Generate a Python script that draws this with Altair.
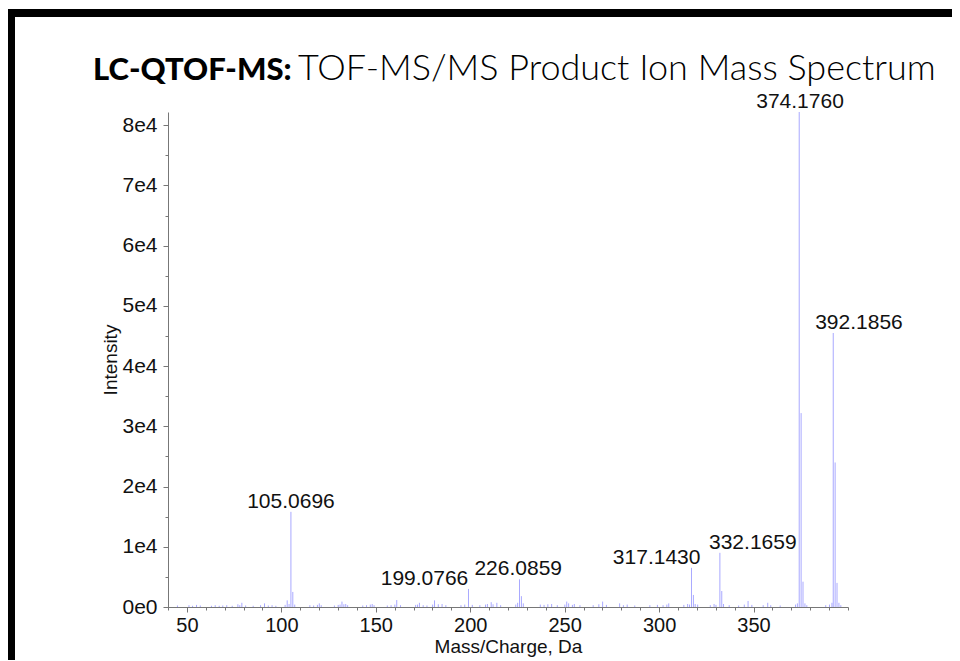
import altair as alt
import pandas as pd

# ---------------- data ----------------
peak_mz = [45.0, 51.1, 53.0, 55.1, 57.1, 63.0, 65.0, 67.1, 69.0, 71.1, 74.0, 77.0, 78.0, 79.1, 81.1,
           85.1, 89.0, 91.1, 93.1, 95.1, 97.1, 102.0, 103.1, 104.1, 105.07, 106.07, 107.1, 115.1,
           117.1, 119.1, 120.1, 121.1, 128.1, 130.1, 131.1, 132.1, 133.1, 134.1, 135.1, 143.1,
           145.1, 147.1, 148.1, 149.1, 156.1, 158.1, 160.1, 161.1, 163.1, 171.1, 172.1, 173.1,
           175.1, 177.1, 180.1, 181.1, 183.1, 185.1, 187.1, 195.1, 197.1, 199.08, 201.1, 205.1,
           208.1, 209.1, 211.1, 212.1, 214.1, 216.1, 224.1, 225.1, 226.09, 227.09, 228.1, 237.1,
           239.1, 241.1, 243.1, 246.1, 250.1, 251.1, 252.1, 254.1, 255.1, 258.1, 265.1, 268.1,
           270.1, 272.1, 279.1, 281.1, 283.1, 287.1, 295.1, 299.1, 302.1, 304.1, 305.1, 313.1,
           315.1, 316.1, 317.14, 318.15, 319.1, 320.4, 327.1, 329.1, 330.1, 332.17, 333.17, 334.1,
           337.1, 342.1, 345.1, 347.1, 349.1, 355.1, 357.5, 359.1, 364.1, 372.2, 373.2, 374.18,
           375.18, 376.18, 377.2, 378.2, 388.2, 390.2, 391.5, 392.19, 393.19, 394.19, 395.2, 396.2]
peak_intensity = [250, 300, 200, 350, 250, 200, 300, 200, 250, 300, 200, 450, 300, 700, 250,
                  200, 300, 600, 250, 300, 200, 350, 1100, 500, 15800, 2500, 400, 300,
                  250, 350, 600, 300, 250, 350, 400, 900, 450, 500, 300, 250,
                  300, 400, 500, 300, 250, 300, 400, 1150, 300, 350, 400, 700,
                  300, 250, 400, 1100, 450, 500, 300, 300, 400, 3000, 350, 300,
                  400, 500, 800, 450, 700, 300, 400, 700, 4600, 1800, 600, 400,
                  350, 450, 500, 300, 400, 900, 600, 350, 500, 300, 300, 450,
                  900, 350, 600, 300, 400, 250, 300, 350, 300, 400, 600, 350,
                  500, 400, 6500, 2000, 500, 400, 300, 500, 350, 9000, 2650, 500,
                  300, 250, 400, 1000, 350, 300, 700, 300, 250, 400, 600, 82200,
                  32200, 4200, 600, 300, 300, 400, 700, 45500, 24000, 4000, 700, 300]

label_text = ["105.0696", "199.0766", "226.0859", "317.1430", "332.1659", "374.1760", "392.1856"]
label_pos_mz = [105.1, 175.8, 225.4, 298.7, 349.6, 374.6, 405.8]
label_intensity = [15800, 3000, 4600, 6500, 9000, 82200, 45500]

x_major = [50, 100, 150, 200, 250, 300, 350]
x_minor = list(range(40, 401, 10))
y_major = [0, 10000, 20000, 30000, 40000, 50000, 60000, 70000, 80000]
y_minor = list(range(0, 82001, 5000))

spec_df = pd.DataFrame({"mz": peak_mz, "intensity": peak_intensity, "base": [0] * len(peak_mz)})
lab_df = pd.DataFrame({"text": label_text, "mz": label_pos_mz, "intensity": label_intensity})
one = alt.Data(values=[{"k": 1}])

FONT = "Liberation Sans"
AX = "#777777"
TXT = "#111111"

xscale = alt.Scale(domain=[40, 400], nice=False, zero=False)
yscale = alt.Scale(domain=[0, 82200], nice=False)

x_axis = alt.Axis(values=x_major, title="Mass/Charge, Da", orient="bottom", grid=False,
                  tickSize=5, labelPadding=3, titlePadding=2, labelFontSize=20, titleFontSize=19,
                  labelFont=FONT, titleFont=FONT, titleFontWeight="normal",
                  domainColor=AX, tickColor=AX, labelColor=TXT, titleColor=TXT)
y_axis = alt.Axis(values=y_major, title="Intensity", orient="left", grid=False,
                  labelExpr="datum.value == 0 ? '0e0' : format(datum.value / 10000, 'd') + 'e4'",
                  tickSize=5, labelPadding=6, titlePadding=1, labelFontSize=21, titleFontSize=19,
                  labelFont=FONT, titleFont=FONT, titleFontWeight="normal",
                  domainColor=AX, tickColor=AX, labelColor=TXT, titleColor=TXT)

spectrum = alt.Chart(spec_df).mark_rule(color="#9a9aff", strokeWidth=1, opacity=0.85).encode(
    x=alt.X("mz:Q", scale=xscale, axis=x_axis),
    y=alt.Y("intensity:Q", scale=yscale, axis=y_axis),
    y2=alt.Y2("base:Q"),
)

minor = alt.Chart(spec_df).mark_point(opacity=0).encode(
    x=alt.X("mz:Q", scale=xscale,
            axis=alt.Axis(values=x_minor, labels=False, title=None, domain=False, grid=False,
                          tickSize=3, orient="bottom", tickColor=AX)),
    y=alt.Y("intensity:Q", scale=yscale,
            axis=alt.Axis(values=y_minor, labels=False, title=None, domain=False, grid=False,
                          tickSize=3, orient="left", tickColor=AX)),
)

labels = alt.Chart(lab_df).mark_text(font=FONT, fontSize=21, dy=-4, align="center",
                                     baseline="alphabetic", color=TXT).encode(
    x=alt.X("mz:Q", scale=xscale, axis=None),
    y=alt.Y("intensity:Q", scale=yscale, axis=None),
    text="text:N",
)

title_bold = alt.Chart(one).mark_text(text="LC-QTOF-MS:", font="Lato", fontWeight=900, fontSize=31,
                                      align="left", baseline="alphabetic", color="#000").encode(
    x=alt.value(-75), y=alt.value(-32))
title_light = alt.Chart(one).mark_text(text="TOF-MS/MS Product Ion Mass Spectrum", font="Lato",
                                       fontWeight=300, fontSize=36, align="left",
                                       baseline="alphabetic", color="#000").encode(
    x=alt.value(130), y=alt.value(-32))

border_top = alt.Chart(one).mark_rect(color="black").encode(
    x=alt.value(-160), x2=alt.value(820), y=alt.value(-103), y2=alt.value(-95))
border_left = alt.Chart(one).mark_rect(color="black").encode(
    x=alt.value(-160), x2=alt.value(-153), y=alt.value(-103), y2=alt.value(600))

chart = alt.layer(spectrum, minor, labels, title_bold, title_light, border_top, border_left).resolve_axis(
    x="independent", y="independent"
).properties(
    width=680, height=495,
    background="white",
    autosize=alt.AutoSizeParams(type="none"),
    padding={"left": 160, "top": 104, "right": 104, "bottom": 53},
).configure_view(stroke=None, strokeWidth=0)

chart.save("out.html", embed_options={"renderer": "svg", "actions": False})
